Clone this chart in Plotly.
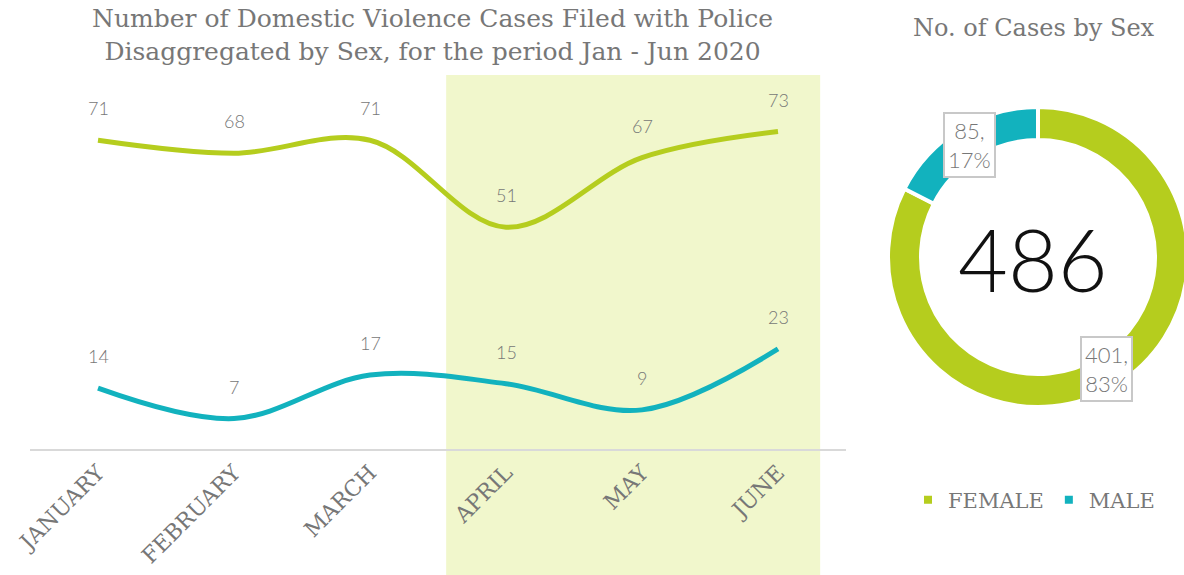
import math
import plotly.graph_objects as go

# ---------------- data ----------------
months = ["JANUARY", "FEBRUARY", "MARCH", "APRIL", "MAY", "JUNE"]
female_cases = [71, 68, 71, 51, 67, 73]
male_cases = [14, 7, 17, 15, 9, 23]
sex_labels = ["FEMALE", "MALE"]
sex_totals = [401, 85]
highlight_months = ["APRIL", "JUNE"]

# ---------------- style ----------------
W, H = 1200, 575   # slightly wider than the 1184 window so the donut can bleed off the edge
GREEN = "#B5CD1E"
CYAN = "#12B2BE"
HILITE = "#F1F7CC"
GREY_TXT = "#777777"
SLAB = "DejaVu Serif"
SANS = "Lato"
HOLE = 0.78


def px(x):
    return x / W


def py(y):
    return 1 - y / H


fig = go.Figure()

fig.add_trace(go.Scatter(
    x=months, y=female_cases, mode="lines", name="FEMALE",
    line=dict(color=GREEN, width=5, shape="spline", smoothing=1.0),
    showlegend=False, hoverinfo="skip", xaxis="x", yaxis="y"))
fig.add_trace(go.Scatter(
    x=months, y=male_cases, mode="lines", name="MALE",
    line=dict(color=CYAN, width=5, shape="spline", smoothing=1.0),
    showlegend=False, hoverinfo="skip", xaxis="x", yaxis="y"))

annotations = []
for series in (female_cases, male_cases):
    for m, v in zip(months, series):
        annotations.append(dict(
            x=m, y=v, xref="x", yref="y", text=str(v), showarrow=False,
            xanchor="center", yanchor="middle",
            yshift=32, font=dict(family=SANS, size=18, color=GREY_TXT, weight=300)))

# donut
cx, cy, r_out = 1038, 257, 148
half = 150
fig.add_trace(go.Pie(
    labels=sex_labels, values=sex_totals, hole=HOLE, sort=False,
    direction="clockwise", rotation=0,
    marker=dict(colors=[GREEN, CYAN], line=dict(color="white", width=4)),
    textinfo="none", hoverinfo="skip",
    domain=dict(x=[px(cx - half), px(cx + half)], y=[py(cy + half), py(cy - half)])))

# donut labels with boxes, placed at mid-ring of each slice
r_mid = r_out * (1 + HOLE) / 2
total = sum(sex_totals)
start = 0.0
for lab, val in zip(sex_labels, sex_totals):
    frac = val / total
    mid = (start + frac / 2) * 2 * math.pi
    lx = cx + r_mid * math.sin(mid)
    ly = cy - r_mid * math.cos(mid)
    annotations.append(dict(
        x=px(lx), y=py(ly), xref="paper", yref="paper", showarrow=False,
        xanchor="center", yanchor="middle",
        text=f"{val},<br>{round(frac * 100)}%",
        font=dict(family=SANS, size=22, color=GREY_TXT, weight=300),
        bgcolor="white", bordercolor="#c8c8c8", borderwidth=2, borderpad=3))
    start += frac

annotations.append(dict(
    x=px(1033), y=py(258), xref="paper", yref="paper", showarrow=False,
    xanchor="center", yanchor="middle",
    text=str(total), font=dict(family=SANS, size=86, color="#111111", weight=300)))

annotations.append(dict(
    x=px(432), y=py(35), xref="paper", yref="paper", showarrow=False,
    xanchor="center", yanchor="middle",
    text="Number of Domestic Violence Cases Filed with Police<br>Disaggregated by Sex, for the period Jan - Jun 2020",
    font=dict(family=SLAB, size=25, color=GREY_TXT, weight=300)))
annotations.append(dict(
    x=px(1034), y=py(28), xref="paper", yref="paper", showarrow=False,
    xanchor="center", yanchor="middle",
    text="No. of Cases by Sex",
    font=dict(family=SLAB, size=24, color=GREY_TXT, weight=300)))

i0 = months.index(highlight_months[0])
i1 = months.index(highlight_months[1])
shapes = [dict(type="rect", xref="x", yref="paper",
               x0=i0 - 0.44, x1=i1 + 0.31, y0=0, y1=py(75),
               fillcolor=HILITE, line=dict(width=0), layer="below")]

fig.update_layout(
    width=W, height=H, margin=dict(l=0, r=0, t=0, b=0, autoexpand=False),
    paper_bgcolor="white", plot_bgcolor="rgba(0,0,0,0)",
    xaxis=dict(domain=[px(30), px(846)], anchor="y", type="category",
               range=[-0.5, 5.5], showgrid=False, zeroline=False,
               showline=True, linecolor="#d9d9d9", linewidth=2,
               ticks="", tickangle=-45, automargin=False,
               tickfont=dict(family=SLAB, size=22, color=GREY_TXT)),
    yaxis=dict(domain=[py(449), py(75)], range=[0, 86], visible=False,
               fixedrange=True, automargin=False),
    showlegend=True,
    legend=dict(orientation="h", x=px(908), y=py(500), xanchor="left",
                yanchor="middle", font=dict(family=SLAB, size=21, color=GREY_TXT),
                bgcolor="rgba(0,0,0,0)"),
    annotations=annotations, shapes=shapes,
)

fig.write_html("out.html", config={"displayModeBar": False},
               post_script="document.body.style.margin='0';document.body.style.overflow='hidden';")
